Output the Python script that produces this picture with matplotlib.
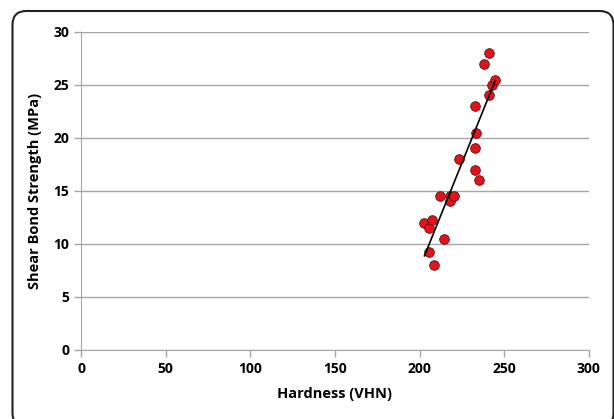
import numpy as np
import matplotlib
matplotlib.use("Agg")
import matplotlib.pyplot as plt
from matplotlib.patches import FancyBboxPatch

# data
hardness = [202.9, 205.7, 207.3, 205.7, 208.7, 211.9, 214.7, 217.7, 217.7, 220.5,
            223.5, 232.5, 233.5, 232.5, 232.5, 235.3, 238.0, 241.0, 241.0, 242.7, 244.7]
strength = [12.0, 11.5, 12.25, 9.25, 8.0, 14.5, 10.5, 14.5, 14.0, 14.5,
            18.0, 23.0, 20.5, 19.0, 17.0, 16.0, 27.0, 28.0, 24.0, 25.0, 25.5]
x_ticks = [0, 50, 100, 150, 200, 250, 300]
y_ticks = [0, 5, 10, 15, 20, 25, 30]

plt.rcParams['font.family'] = ['Open Sans', 'DejaVu Sans']

fig = plt.figure(figsize=(6.14, 4.19), dpi=100)
ax = fig.add_axes([0.132, 0.165, 0.827, 0.759])

# rounded frame around the chart area (pixel coords, runs off the right and bottom edge)
frame = FancyBboxPatch((12.5, -8), 601, 416, boxstyle="round,pad=0,rounding_size=14",
                       transform=None, fill=False, edgecolor='#222222', linewidth=1.5)
fig.patches.append(frame)

ax.set_axisbelow(True)
ax.grid(axis='y', color='#A6A6A6', linewidth=1.0)

ax.scatter(hardness, strength, s=48, color='#E3131B', edgecolor='#5a1010', linewidth=0.6, zorder=3)

# linear trend line
k, b = np.polyfit(hardness, strength, 1)
xs = np.array([min(hardness), max(hardness)])
ax.plot(xs, k * xs + b, color='black', linewidth=1.2, zorder=4)

ax.set_xlim(0, 300)
ax.set_ylim(0, 30)
ax.set_xticks(x_ticks)
ax.set_yticks(y_ticks)
ax.tick_params(axis='both', colors='#A6A6A6', labelcolor='black', labelsize=10, length=5, width=1)
for lab in ax.get_xticklabels() + ax.get_yticklabels():
    lab.set_fontweight('bold')

for s in ['top', 'right']:
    ax.spines[s].set_visible(False)
for s in ['left', 'bottom']:
    ax.spines[s].set_color('#A6A6A6')

ax.set_xlabel("Hardness (VHN)", fontsize=10.5, fontweight='bold', labelpad=8)
ax.set_ylabel("Shear Bond Strength (MPa)", fontsize=10.5, fontweight='bold', labelpad=8)

fig.savefig("out.png", dpi=100)
